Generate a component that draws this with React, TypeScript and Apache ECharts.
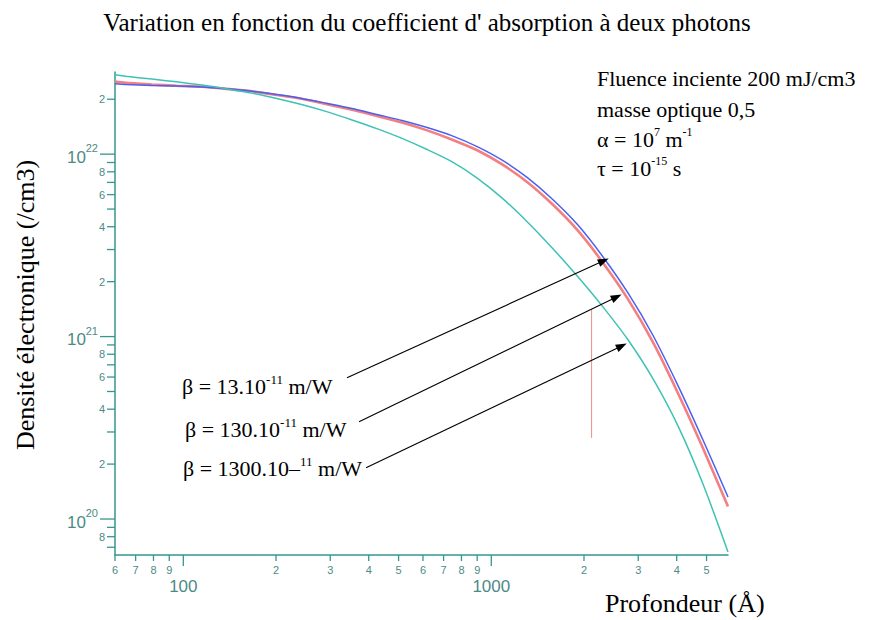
import React, { useEffect, useRef } from "react";
import * as echarts from "echarts";

// ---- axis extents ----
const X_MIN = 60;
const X_MAX = 5870;
const Y_MIN = 6.35e19;
const Y_MAX = 2.82e22;

// ---- curve data (depth in Å, electron density in /cm3) ----
const depths = [60, 65, 79, 95, 115, 138, 167, 201, 242, 292, 353, 425, 513, 619, 747, 900, 1085, 1310, 1580, 1905, 2300, 2775, 3345, 4035, 4865, 5870];
const beta13 = [2.43e22, 2.41e22, 2.38e22, 2.36e22, 2.33e22, 2.28e22, 2.21e22, 2.12e22, 2.02e22, 1.9e22, 1.78e22, 1.65e22, 1.53e22, 1.4e22, 1.26e22, 1.1e22, 9.27e21, 7.43e21, 5.66e21, 4.11e21, 2.75e21, 1.74e21, 1.02e21, 5.4e20, 2.72e20, 1.32e20];
const beta130 = [2.5e22, 2.46e22, 2.41e22, 2.37e22, 2.34e22, 2.28e22, 2.21e22, 2.11e22, 2.01e22, 1.88e22, 1.75e22, 1.62e22, 1.49e22, 1.35e22, 1.2e22, 1.05e22, 8.78e21, 7.02e21, 5.31e21, 3.83e21, 2.55e21, 1.61e21, 9.35e20, 4.91e20, 2.45e20, 1.17e20];
const beta1300 = [2.72e22, 2.67e22, 2.58e22, 2.49e22, 2.39e22, 2.28e22, 2.16e22, 2.02e22, 1.87e22, 1.71e22, 1.54e22, 1.38e22, 1.22e22, 1.06e22, 9.07e21, 7.39e21, 5.74e21, 4.25e21, 3.05e21, 2.14e21, 1.46e21, 9.64e20, 5.9e20, 3.25e20, 1.56e20, 6.6e19];

// red vertical marker
const markerX = [2117, 2117];
const markerY = [1.4e21, 2.78e20];

// arrows: [depth, density] start and end points
const arrowStarts = [[340, 5.94e20], [372, 3.41e20], [392, 1.91e20]];
const arrowEnds = [[2317, 2.6e21], [2553, 1.65e21], [2652, 8.89e20]];

// ---- ticks ----
const xTickValues = [60, 70, 80, 90, 100, 200, 300, 400, 500, 600, 700, 800, 900, 1000, 2000, 3000, 4000, 5000];
const xTickLabels = ["6", "7", "8", "9", "100", "2", "3", "4", "5", "6", "7", "8", "9", "1000", "2", "3", "4", "5"];
const xTickMajor = [false, false, false, false, true, false, false, false, false, false, false, false, false, true, false, false, false, false];

const yTickValues = [7e19, 8e19, 9e19, 1e20, 2e20, 3e20, 4e20, 5e20, 6e20, 7e20, 8e20, 9e20, 1e21, 2e21, 3e21, 4e21, 5e21, 6e21, 7e21, 8e21, 9e21, 1e22, 2e22];
const yTickLabels = ["", "8", "", "", "2", "", "4", "", "6", "", "8", "", "", "2", "", "4", "", "6", "", "8", "", "", "2"];
const yTickExponents = ["", "", "", "20", "", "", "", "", "", "", "", "", "21", "", "", "", "", "", "", "", "", "22", ""];

// ---- texts ----
const TITLE = "Variation en fonction du coefficient d' absorption à deux photons";
const Y_TITLE = "Densité électronique (/cm3)";
const X_TITLE = "Profondeur (Å)";
const NOTE_LINES = ["Fluence inciente 200 mJ/cm3", "masse optique 0,5"];
const ALPHA_TEXT = "{b|α = 10}{s|7}{b| m}{s|-1}";
const TAU_TEXT = "{b|τ = 10}{s|-15}{b| s}";
const BETA_TEXTS = ["{b|β = 13.10}{s|-11}{b| m/W}", "{b|β = 130.10}{s|-11}{b| m/W}", "{b|β = 1300.10–}{s|11}{b| m/W}"];

const SERIF = '"Liberation Serif", "Times New Roman", serif';
const SANS = '"Liberation Sans", Arial, sans-serif';
const AXIS_COLOR = "#35978f";
const TICK_TEXT = "#4d8a86";

function richStyle(size: number, supSize: number, lh: number) {
  return {
    b: { fontFamily: SERIF, fontSize: size, fill: "#000", lineHeight: lh, verticalAlign: "middle" as const },
    s: { fontFamily: SERIF, fontSize: supSize, fill: "#000", lineHeight: supSize, verticalAlign: "top" as const },
  };
}

export default function App() {
  const ref = useRef<HTMLDivElement>(null);

  useEffect(() => {
    const chart = echarts.init(ref.current!, null, { renderer: "svg" });

    const lineCommon = { type: "line", showSymbol: false, smooth: 0.25 };

    const option: any = {
      animation: false,
      backgroundColor: "#fff",
      grid: { left: 115, right: 142, top: 72, bottom: 65, containLabel: false },
      xAxis: {
        type: "log",
        logBase: 10,
        min: X_MIN,
        max: X_MAX,
        axisLine: { show: true, lineStyle: { color: AXIS_COLOR, width: 1.5 } },
        axisTick: { show: false },
        axisLabel: { show: false },
        splitLine: { show: false },
      },
      yAxis: {
        type: "log",
        logBase: 10,
        min: Y_MIN,
        max: Y_MAX,
        axisLine: { show: true, lineStyle: { color: AXIS_COLOR, width: 1.5 } },
        axisTick: { show: false },
        axisLabel: { show: false },
        splitLine: { show: false },
      },
      series: [
        {
          ...lineCommon,
          name: "β = 130",
          data: depths.map((d, i) => [d, beta130[i]]),
          lineStyle: { color: "#f47f80", width: 2.6 },
          z: 2,
        },
        {
          ...lineCommon,
          name: "β = 13",
          data: depths.map((d, i) => [d, beta13[i]]),
          lineStyle: { color: "#4b5ff0", width: 1.5 },
          z: 3,
        },
        {
          ...lineCommon,
          name: "β = 1300",
          data: depths.map((d, i) => [d, beta1300[i]]),
          lineStyle: { color: "#3ec2b6", width: 1.5 },
          z: 3,
        },
        {
          name: "marker",
          type: "line",
          data: markerX.map((d, i) => [d, markerY[i]]),
          showSymbol: false,
          lineStyle: { color: "#f08a8a", width: 1 },
          z: 2,
          markLine: {
            silent: true,
            animation: false,
            symbol: ["none", "triangle"],
            symbolSize: [8, 11],
            label: { show: false },
            lineStyle: { color: "#000", width: 1.1, type: "solid" },
            itemStyle: { color: "#000" },
            data: arrowStarts.map((s, i) => [
              { coord: s, symbol: "none" },
              { coord: arrowEnds[i], symbol: "triangle" },
            ]),
          },
        },
        {
          name: "xticks",
          type: "custom",
          clip: false,
          silent: true,
          z: 5,
          data: xTickValues.map((v) => [v, Y_MIN]),
          renderItem: (params: any, api: any) => {
            const i = params.dataIndex;
            const p = api.coord([api.value(0), api.value(1)]);
            const major = xTickMajor[i];
            return {
              type: "group",
              children: [
                {
                  type: "line",
                  shape: { x1: p[0], y1: p[1], x2: p[0], y2: p[1] + (major ? 11 : 6) },
                  style: { stroke: AXIS_COLOR, lineWidth: 1.3 },
                },
                {
                  type: "text",
                  x: p[0],
                  y: p[1] + (major ? 31 : 15),
                  style: {
                    text: xTickLabels[i],
                    fill: TICK_TEXT,
                    fontFamily: SANS,
                    fontSize: major ? 17 : 11,
                    align: "center",
                    verticalAlign: "middle",
                  },
                },
              ],
            };
          },
        },
        {
          name: "yticks",
          type: "custom",
          clip: false,
          silent: true,
          z: 5,
          data: yTickValues.map((v) => [X_MIN, v]),
          renderItem: (params: any, api: any) => {
            const i = params.dataIndex;
            const p = api.coord([api.value(0), api.value(1)]);
            const exp = yTickExponents[i];
            const major = exp !== "";
            const children: any[] = [
              {
                type: "line",
                shape: { x1: p[0] - (major ? 15 : 8), y1: p[1], x2: p[0], y2: p[1] },
                style: { stroke: AXIS_COLOR, lineWidth: 1.3 },
              },
            ];
            if (major) {
              children.push({
                type: "text",
                x: p[0] - 17,
                y: p[1] - 6,
                style: { text: exp, fill: TICK_TEXT, fontFamily: SANS, fontSize: 11, align: "right", verticalAlign: "middle" },
              });
              children.push({
                type: "text",
                x: p[0] - 29,
                y: p[1] + 3,
                style: { text: "10", fill: TICK_TEXT, fontFamily: SANS, fontSize: 17, align: "right", verticalAlign: "middle" },
              });
            } else if (yTickLabels[i]) {
              children.push({
                type: "text",
                x: p[0] - 10,
                y: p[1],
                style: { text: yTickLabels[i], fill: TICK_TEXT, fontFamily: SANS, fontSize: 11, align: "right", verticalAlign: "middle" },
              });
            }
            return { type: "group", children };
          },
        },
      ],
      graphic: [
        {
          type: "text",
          x: 427,
          y: 22,
          style: { text: TITLE, fontFamily: SERIF, fontSize: 25, fill: "#000", align: "center", verticalAlign: "middle" },
        },
        {
          type: "text",
          x: 25,
          y: 305,
          rotation: Math.PI / 2,
          style: { text: Y_TITLE, fontFamily: SERIF, fontSize: 26, fill: "#000", align: "center", verticalAlign: "middle" },
        },
        {
          type: "text",
          x: 605,
          y: 603,
          style: { text: X_TITLE, fontFamily: SERIF, fontSize: 26, fill: "#000", align: "left", verticalAlign: "middle" },
        },
        {
          type: "text",
          x: 597,
          y: 78,
          style: { text: NOTE_LINES[0], fontFamily: SERIF, fontSize: 22, fill: "#000", align: "left", verticalAlign: "middle" },
        },
        {
          type: "text",
          x: 597,
          y: 109,
          style: { text: NOTE_LINES[1], fontFamily: SERIF, fontSize: 22, fill: "#000", align: "left", verticalAlign: "middle" },
        },
        {
          type: "text",
          x: 597,
          y: 139,
          style: { text: ALPHA_TEXT, rich: richStyle(22, 12, 26), align: "left", verticalAlign: "middle" },
        },
        {
          type: "text",
          x: 597,
          y: 168,
          style: { text: TAU_TEXT, rich: richStyle(22, 12, 26), align: "left", verticalAlign: "middle" },
        },
        {
          type: "text",
          x: 182,
          y: 386,
          style: { text: BETA_TEXTS[0], rich: richStyle(22, 13, 26), align: "left", verticalAlign: "middle" },
        },
        {
          type: "text",
          x: 185,
          y: 429,
          style: { text: BETA_TEXTS[1], rich: richStyle(22, 13, 26), align: "left", verticalAlign: "middle" },
        },
        {
          type: "text",
          x: 183,
          y: 468,
          style: { text: BETA_TEXTS[2], rich: richStyle(22, 13, 26), align: "left", verticalAlign: "middle" },
        },
      ],
    };

    chart.setOption(option);
    return () => chart.dispose();
  }, []);

  return (
    <div
      ref={ref}
      style={{ position: "fixed", left: 0, top: 0, width: 870, height: 620, background: "#fff" }}
    />
  );
}
